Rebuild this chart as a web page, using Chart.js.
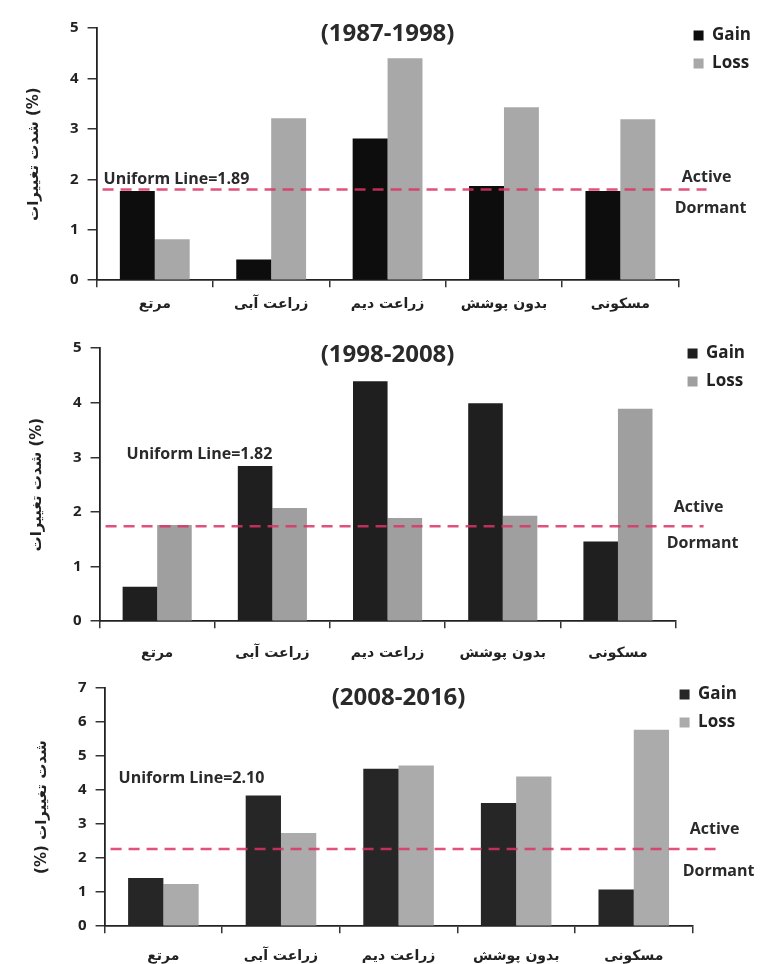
<!DOCTYPE html>
<html>
<head>
<meta charset="utf-8">
<script src="https://cdn.jsdelivr.net/npm/chart.js@4"></script>
<style>
    body { margin: 0; background: #fff; width: 766px; height: 964px; position: relative; overflow: hidden; }
    .box { position: absolute; left: 0; width: 766px; }
</style>
</head>
<body>
<div class="box" style="top:0;height:322px"><canvas id="c1"></canvas></div>
<div class="box" style="top:320px;height:359px"><canvas id="c2"></canvas></div>
<div class="box" style="top:656px;height:324px"><canvas id="c3"></canvas></div>
<script>
// داده ها
const categories = ['مرتع', 'زراعت آبی', 'زراعت دیم', 'بدون پوشش', 'مسکونی'];
const seriesNames = ['Gain', 'Loss'];
const periods = ['(1987-1998)', '(1998-2008)', '(2008-2016)'];

const gain1 = [1.77, 0.41, 2.81, 1.87, 1.77];
const loss1 = [0.81, 3.21, 4.40, 3.43, 3.19];
const gain2 = [0.63, 2.84, 4.39, 3.99, 1.46];
const loss2 = [1.76, 2.07, 1.89, 1.93, 3.89];
const gain3 = [1.42, 3.84, 4.63, 3.62, 1.08];
const loss3 = [1.24, 2.74, 4.72, 4.40, 5.77];

const uniformText = ['Uniform Line=1.89', 'Uniform Line=1.82', 'Uniform Line=2.10'];
const uniformLevel = [1.80, 1.74, 2.27];   // where the dashed line sits in the picture
const yMax = [5, 5, 7];
const yTitles = ['شدت تغییرات (%)', 'شدت تغییرات (%)', '(%) شدت تغییرات'];

const latin = "'Open Sans', 'DejaVu Sans', sans-serif";
const persian = "'DejaVu Sans', sans-serif";

// extra drawing: title, uniform line, Active / Dormant
const overlayPlugin = {
    id: 'overlay',
    beforeDraw(chart, args, opts) {
        // legend sits higher and closer to the plot than the layout puts it
        let lg = chart.legend;
        if (lg) {
            lg.top = opts.legendTop;
            lg.left = chart.chartArea.right + opts.legendDx;
        }
    },
    afterDatasetsDraw(chart, args, opts) {
        let ctx = chart.ctx;
        let area = chart.chartArea;
        let y = chart.scales.y;
        let lineY = y.getPixelForValue(opts.level);

        ctx.save();
        ctx.strokeStyle = 'rgba(218, 50, 100, 0.85)';
        ctx.lineWidth = 2.5;
        ctx.setLineDash([11, 7]);
        ctx.beginPath();
        ctx.moveTo(area.left + 6, lineY);
        ctx.lineTo(area.right + 28, lineY);
        ctx.stroke();
        ctx.setLineDash([]);

        ctx.fillStyle = '#2a2a2a';
        ctx.font = 'bold 16px ' + latin;
        ctx.textBaseline = 'middle';
        ctx.textAlign = 'left';
        ctx.fillText(opts.uniformText, area.left + opts.labelDx, y.getPixelForValue(opts.labelAt));

        ctx.textAlign = 'center';
        ctx.fillText('Active', area.right + opts.textDx, lineY + opts.activeDy);
        ctx.fillText('Dormant', area.right + opts.textDx + 4, lineY + opts.dormantDy);

        ctx.font = 'bold 24px ' + latin;
        ctx.fillText(opts.title, (area.left + area.right) / 2, area.top + opts.titleDy);
        ctx.restore();
    }
};

function makeChart(id, idx, gain, loss, gainColor, lossColor, panel) {
    let ctx = document.getElementById(id).getContext('2d');
    return new Chart(ctx, {
        type: 'bar',
        data: {
            labels: categories,
            datasets: [{
                label: seriesNames[0],
                data: gain,
                backgroundColor: gainColor,
                borderWidth: 0,
                categoryPercentage: 0.6,
                barPercentage: 1.0
            }, {
                label: seriesNames[1],
                data: loss,
                backgroundColor: lossColor,
                borderWidth: 0,
                categoryPercentage: 0.6,
                barPercentage: 1.0
            }]
        },
        options: {
            responsive: true,
            maintainAspectRatio: false,
            animation: false,
            layout: {
                padding: { top: panel.padTop, right: panel.padRight, bottom: 0, left: panel.padLeft }
            },
            plugins: {
                legend: {
                    position: 'right',
                    align: 'start',
                    labels: {
                        boxWidth: 10,
                        boxHeight: 10,
                        padding: 11,
                        color: '#222',
                        font: { family: latin, size: 17, weight: 'bold' }
                    }
                },
                tooltip: { enabled: false },
                overlay: {
                    level: uniformLevel[idx],
                    uniformText: uniformText[idx],
                    title: periods[idx],
                    labelAt: panel.labelAt,
                    labelDx: panel.labelDx,
                    textDx: panel.textDx,
                    activeDy: panel.activeDy,
                    dormantDy: panel.dormantDy,
                    titleDy: panel.titleDy,
                    legendTop: panel.legendTop,
                    legendDx: panel.legendDx
                }
            },
            scales: {
                x: {
                    grid: {
                        offset: true,
                        drawOnChartArea: false,
                        drawTicks: true,
                        tickLength: 7,
                        color: '#333',
                        lineWidth: 1.5
                    },
                    border: { color: '#222', width: 1.8 },
                    ticks: {
                        color: '#222',
                        padding: panel.xPad,
                        font: { family: persian, size: 14, weight: 'bold' }
                    }
                },
                y: {
                    min: 0,
                    max: yMax[idx],
                    grid: {
                        drawOnChartArea: false,
                        drawTicks: true,
                        tickLength: 9,
                        color: '#333',
                        lineWidth: 1.5
                    },
                    border: { color: '#222', width: 1.8 },
                    ticks: {
                        stepSize: 1,
                        color: '#222',
                        padding: 9,
                        font: { family: latin, size: 15, weight: 'bold' }
                    },
                    title: {
                        display: true,
                        text: yTitles[idx],
                        color: '#222',
                        padding: { top: 0, bottom: 18 },
                        font: { family: persian, size: 15, weight: 'bold' }
                    }
                }
            }
        },
        plugins: [overlayPlugin]
    });
}

makeChart('c1', 0, gain1, loss1, '#0d0d0d', '#a8a8a8',
    { padTop: 28, padRight: 9, padLeft: 25, xPad: 9, labelAt: 2.0, labelDx: 7, textDx: 28,
      activeDy: -12, dormantDy: 19, titleDy: 6, legendTop: 16, legendDx: 4 });
makeChart('c2', 1, gain2, loss2, '#1f1f1f', '#9f9f9f',
    { padTop: 28, padRight: 12, padLeft: 28, xPad: 17, labelAt: 3.05, labelDx: 27, textDx: 23,
      activeDy: -19, dormantDy: 17, titleDy: 7, legendTop: 14, legendDx: 1 });
makeChart('c3', 2, gain3, loss3, '#262626', '#ababab',
    { padTop: 32, padRight: -5, padLeft: 33, xPad: 15, labelAt: 4.35, labelDx: 14, textDx: 22,
      activeDy: -20, dormantDy: 22, titleDy: 10, legendTop: 19, legendDx: -24 });
</script>
</body>
</html>
